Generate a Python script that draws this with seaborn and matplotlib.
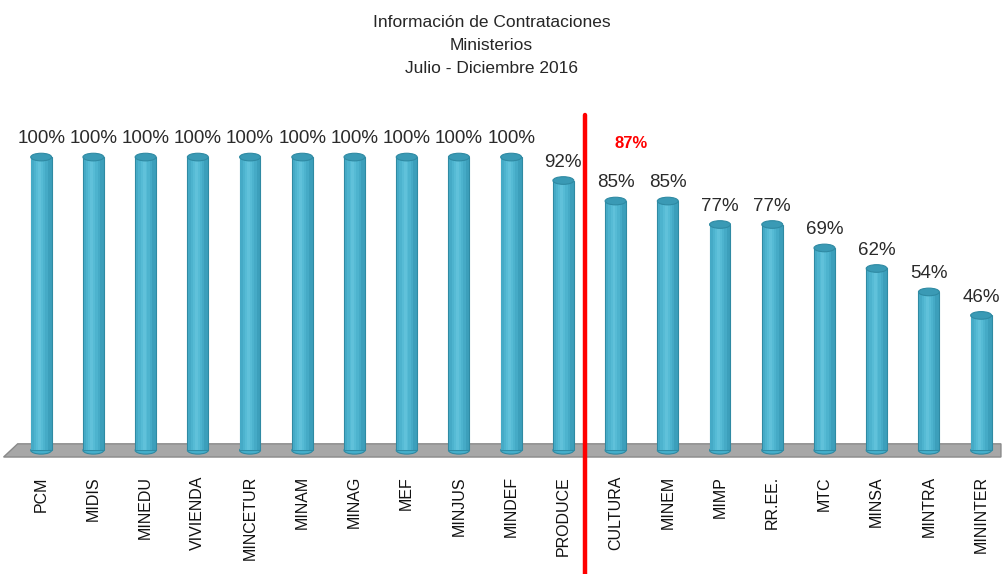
import matplotlib
matplotlib.use("Agg")
import matplotlib.pyplot as plt
import matplotlib.transforms as mtransforms
from matplotlib.patches import Ellipse, Polygon
import pandas as pd
import seaborn as sns

# Data
ministerios = ["PCM", "MIDIS", "MINEDU", "VIVIENDA", "MINCETUR", "MINAM", "MINAG",
               "MEF", "MINJUS", "MINDEF", "PRODUCE", "CULTURA", "MINEM", "MIMP",
               "RR.EE.", "MTC", "MINSA", "MINTRA", "MININTER"]
porcentaje = [100, 100, 100, 100, 100, 100, 100, 100, 100, 100, 92, 85, 85, 77, 77, 69, 62, 54, 46]
promedio = 87
promedio_label = "87%"

df = pd.DataFrame({"ministerio": ministerios, "pct": porcentaje})

sns.set_style("white")
plt.rcParams["font.family"] = ["Liberation Sans", "DejaVu Sans"]

fig = plt.figure(figsize=(10.03, 5.74), dpi=100)
ax = fig.add_axes([0.002, 0.19, 0.997, 0.613])

bar_w = 0.4
sns.barplot(data=df, x="ministerio", y="pct", color="#3C9FBB", width=bar_w,
            edgecolor="#2F8AA3", linewidth=0.8, saturation=1, ax=ax, zorder=3)

# graded strips to suggest a cylinder
n = len(df)
for frac, col in [(0.78, "#45AAC6"), (0.55, "#4DB3CE"), (0.32, "#56BBD5"), (0.14, "#60C1DA")]:
    ax.bar([i - 0.03 for i in range(n)], df["pct"], width=bar_w * frac, color=col,
           linewidth=0, zorder=4, align="center")

# gray floor
floor = Polygon([(-0.72, -2.3), (-0.45, 2.2), (n - 0.62, 2.2), (n - 0.62, -2.3)],
                closed=True, facecolor="#A7A7A7", edgecolor="#8A8A8A", lw=1, zorder=1)
ax.add_patch(floor)

# top caps and bottom ellipses, value labels
for i, v in enumerate(df["pct"]):
    ax.add_patch(Ellipse((i, v), bar_w, 2.6, facecolor="#3A9AB5",
                         edgecolor="#2F8AA3", lw=0.8, zorder=5))
    ax.add_patch(Ellipse((i, 0), bar_w, 2.6, facecolor="#45AECB",
                         edgecolor="#2F8AA3", lw=0.8, zorder=2))
    ax.text(i, v + 3.3, f"{v}%", ha="center", va="bottom", fontsize=13.5,
            color="#2A2A2A", zorder=6)

ax.set_xlim(-0.75, 18.4)
ax.set_ylim(-5, 115)
ax.set_xlabel("")
ax.set_ylabel("")
ax.set_yticks([])
ax.tick_params(axis="x", length=0, pad=8)
ax.set_xticks(range(n))
ax.set_xticklabels(ministerios, rotation=90, fontsize=11.5, va="top", color="#111111")
for s in ax.spines.values():
    s.set_visible(False)

# red average line
trans = mtransforms.blended_transform_factory(ax.transData, fig.transFigure)
fig.add_artist(plt.Line2D([10.42, 10.42], [0.0, 0.80], transform=trans,
                          color="#FF0000", lw=3.2, zorder=10))
ax.text(11.3, 104.5, promedio_label, color="#FF0000", fontsize=12, fontweight="bold",
        ha="center", va="center")

fig.text(0.49, 0.960, "Información de Contrataciones", ha="center", va="center", fontsize=12.5)
fig.text(0.49, 0.920, "Ministerios", ha="center", va="center", fontsize=12.5)
fig.text(0.49, 0.880, "Julio - Diciembre 2016", ha="center", va="center", fontsize=12.5)

fig.savefig("out.png", dpi=100)
